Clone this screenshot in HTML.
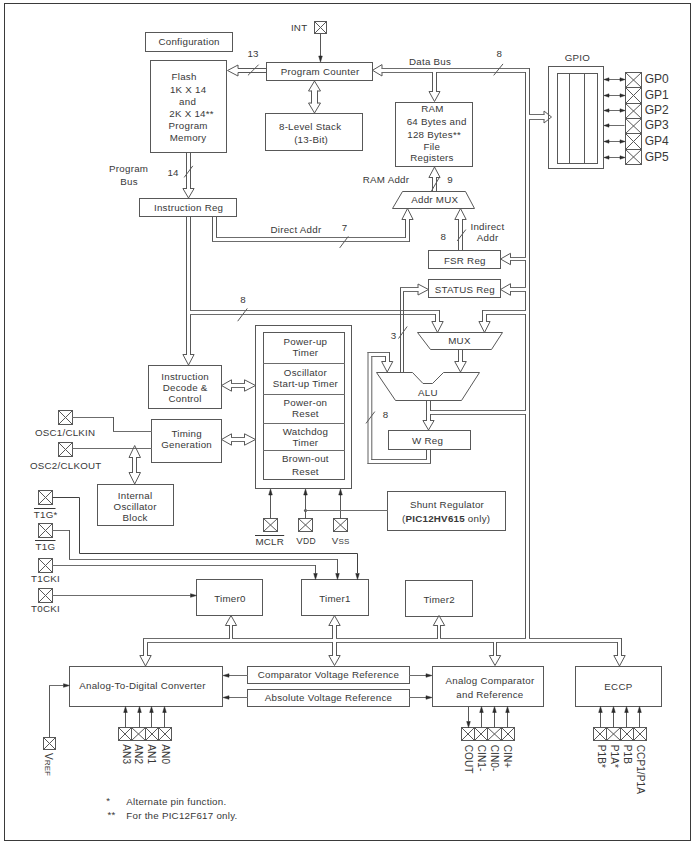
<!DOCTYPE html>
<html><head><meta charset="utf-8"><style>
html,body{margin:0;padding:0;background:#fff;}
svg{display:block;}
text{font-family:"Liberation Sans",sans-serif;fill:#383838;letter-spacing:0.25px;}
</style></head><body>
<svg width="696" height="846" viewBox="0 0 696 846">
<rect x="0" y="0" width="696" height="846" fill="#fff"/>
<rect x="4.5" y="3.5" width="686" height="837" fill="none" stroke="#3a3a3a" stroke-width="1"/>
<rect x="145.5" y="32.5" width="87" height="19" fill="none" stroke="#585858" stroke-width="1"/>
<text x="189.12" y="44.99" font-size="9.75" text-anchor="middle">Configuration</text>
<rect x="150.5" y="60.5" width="76" height="92" fill="none" stroke="#585858" stroke-width="1"/>
<text x="184.12" y="80.19" font-size="9.75" text-anchor="middle">Flash</text>
<text x="188.12" y="93.49" font-size="9.75" text-anchor="middle">1K X 14</text>
<text x="187.62" y="105.19" font-size="9.75" text-anchor="middle">and</text>
<text x="191.62" y="117.49" font-size="9.75" text-anchor="middle">2K X 14**</text>
<text x="188.12" y="129.49" font-size="9.75" text-anchor="middle">Program</text>
<text x="188.12" y="140.79" font-size="9.75" text-anchor="middle">Memory</text>
<rect x="266.5" y="62.5" width="106" height="18" fill="none" stroke="#585858" stroke-width="1"/>
<text x="320.12" y="74.99" font-size="9.75" text-anchor="middle">Program Counter</text>
<rect x="265.5" y="113.5" width="97" height="37" fill="none" stroke="#585858" stroke-width="1"/>
<text x="310.12" y="129.79" font-size="9.75" text-anchor="middle">8-Level Stack</text>
<text x="311.12" y="143.49" font-size="9.75" text-anchor="middle">(13-Bit)</text>
<rect x="395.5" y="102.5" width="77" height="64" fill="none" stroke="#585858" stroke-width="1"/>
<text x="432.43" y="112.29" font-size="9.75" text-anchor="middle">RAM</text>
<text x="436.62" y="125.49" font-size="9.75" text-anchor="middle">64 Bytes and</text>
<text x="434.12" y="138.49" font-size="9.75" text-anchor="middle">128 Bytes**</text>
<text x="431.82" y="150.49" font-size="9.75" text-anchor="middle">File</text>
<text x="432.02" y="160.99" font-size="9.75" text-anchor="middle">Registers</text>
<rect x="139.5" y="198.5" width="97" height="18" fill="none" stroke="#585858" stroke-width="1"/>
<text x="188.62" y="211.49" font-size="9.75" text-anchor="middle">Instruction Reg</text>
<polygon points="402.5,191.5 465.5,191.5 474.5,208.5 392.5,208.5" fill="none" stroke="#585858" stroke-width="1" stroke-linejoin="miter"/>
<text x="434.73" y="203.49" font-size="9.75" text-anchor="middle">Addr MUX</text>
<rect x="428.5" y="250.5" width="72" height="18" fill="none" stroke="#585858" stroke-width="1"/>
<text x="464.82" y="263.99" font-size="9.75" text-anchor="middle">FSR Reg</text>
<rect x="428.5" y="279.5" width="72" height="18" fill="none" stroke="#585858" stroke-width="1"/>
<text x="464.82" y="292.79" font-size="9.75" text-anchor="middle">STATUS Reg</text>
<polygon points="417.5,332.5 502.5,332.5 491.5,349.5 430.5,349.5" fill="none" stroke="#585858" stroke-width="1" stroke-linejoin="miter"/>
<text x="459.43" y="344.19" font-size="9.75" text-anchor="middle">MUX</text>
<polygon points="376.5,372.5 412.5,372.5 423,383.5 432.5,383.5 443.5,372.5 479.5,372.5 461.5,400.5 395.5,400.5" fill="none" stroke="#585858" stroke-width="1" stroke-linejoin="miter"/>
<text x="427.93" y="395.89" font-size="9.75" text-anchor="middle">ALU</text>
<rect x="388.5" y="430.5" width="82" height="19" fill="none" stroke="#585858" stroke-width="1"/>
<text x="427.62" y="443.99" font-size="9.75" text-anchor="middle">W Reg</text>
<rect x="548.5" y="66.5" width="55" height="102" fill="none" stroke="#585858" stroke-width="1"/>
<rect x="557.5" y="73.5" width="40" height="90" fill="none" stroke="#585858" stroke-width="1"/>
<line x1="569.5" y1="73.5" x2="569.5" y2="163.5" stroke="#585858" stroke-width="1" stroke-linecap="square"/>
<line x1="584.5" y1="73.5" x2="584.5" y2="163.5" stroke="#585858" stroke-width="1" stroke-linecap="square"/>
<text x="577.42" y="60.79" font-size="9.75" text-anchor="middle">GPIO</text>
<rect x="148.5" y="365.5" width="73" height="43" fill="none" stroke="#585858" stroke-width="1"/>
<text x="185.12" y="380.49" font-size="9.75" text-anchor="middle">Instruction</text>
<text x="185.12" y="391.49" font-size="9.75" text-anchor="middle">Decode &amp;</text>
<text x="185.12" y="402.29" font-size="9.75" text-anchor="middle">Control</text>
<rect x="151.5" y="419.5" width="70" height="43" fill="none" stroke="#585858" stroke-width="1"/>
<text x="186.62" y="437.49" font-size="9.75" text-anchor="middle">Timing</text>
<text x="186.62" y="447.99" font-size="9.75" text-anchor="middle">Generation</text>
<rect x="97.5" y="484.5" width="76" height="41" fill="none" stroke="#585858" stroke-width="1"/>
<text x="135.12" y="499.29" font-size="9.75" text-anchor="middle">Internal</text>
<text x="135.12" y="510.29" font-size="9.75" text-anchor="middle">Oscillator</text>
<text x="135.12" y="520.99" font-size="9.75" text-anchor="middle">Block</text>
<rect x="255.5" y="325.5" width="96" height="163" fill="none" stroke="#585858" stroke-width="1"/>
<rect x="263.5" y="332.5" width="81" height="147" fill="none" stroke="#585858" stroke-width="1"/>
<line x1="263.5" y1="363.5" x2="344.5" y2="363.5" stroke="#6c6c6c" stroke-width="1" stroke-linecap="square"/>
<line x1="263.5" y1="394.5" x2="344.5" y2="394.5" stroke="#6c6c6c" stroke-width="1" stroke-linecap="square"/>
<line x1="263.5" y1="423.5" x2="344.5" y2="423.5" stroke="#6c6c6c" stroke-width="1" stroke-linecap="square"/>
<line x1="263.5" y1="450.5" x2="344.5" y2="450.5" stroke="#6c6c6c" stroke-width="1" stroke-linecap="square"/>
<text x="305.43" y="345.49" font-size="9.75" text-anchor="middle">Power-up</text>
<text x="305.43" y="355.99" font-size="9.75" text-anchor="middle">Timer</text>
<text x="305.43" y="375.99" font-size="9.75" text-anchor="middle">Oscillator</text>
<text x="305.43" y="387.29" font-size="9.75" text-anchor="middle">Start-up Timer</text>
<text x="305.43" y="405.99" font-size="9.75" text-anchor="middle">Power-on</text>
<text x="305.43" y="417.29" font-size="9.75" text-anchor="middle">Reset</text>
<text x="305.43" y="434.79" font-size="9.75" text-anchor="middle">Watchdog</text>
<text x="305.43" y="445.99" font-size="9.75" text-anchor="middle">Timer</text>
<text x="305.43" y="462.29" font-size="9.75" text-anchor="middle">Brown-out</text>
<text x="305.43" y="475.29" font-size="9.75" text-anchor="middle">Reset</text>
<rect x="387.5" y="491.5" width="118" height="39" fill="none" stroke="#585858" stroke-width="1"/>
<text x="447.02" y="507.99" font-size="9.75" text-anchor="middle">Shunt Regulator</text>
<text x="446.12" y="522.29" font-size="9.75" text-anchor="middle">(<tspan font-weight="bold">PIC12HV615</tspan> only)</text>
<rect x="196.5" y="579.5" width="66" height="36" fill="none" stroke="#585858" stroke-width="1"/>
<text x="229.93" y="602.29" font-size="9.75" text-anchor="middle">Timer0</text>
<rect x="301.5" y="579.5" width="67" height="36" fill="none" stroke="#585858" stroke-width="1"/>
<text x="334.93" y="602.29" font-size="9.75" text-anchor="middle">Timer1</text>
<rect x="405.5" y="580.5" width="67" height="36" fill="none" stroke="#585858" stroke-width="1"/>
<text x="439.23" y="602.99" font-size="9.75" text-anchor="middle">Timer2</text>
<rect x="69.5" y="666.5" width="153" height="40" fill="none" stroke="#585858" stroke-width="1"/>
<text x="142.53" y="689.19" font-size="9.75" text-anchor="middle">Analog-To-Digital Converter</text>
<rect x="247.5" y="666.5" width="162" height="17" fill="none" stroke="#585858" stroke-width="1"/>
<text x="328.43" y="678.19" font-size="9.75" text-anchor="middle">Comparator Voltage Reference</text>
<rect x="247.5" y="689.5" width="162" height="17" fill="none" stroke="#585858" stroke-width="1"/>
<text x="328.52" y="700.89" font-size="9.75" text-anchor="middle">Absolute Voltage Reference</text>
<rect x="432.5" y="666.5" width="111" height="40" fill="none" stroke="#585858" stroke-width="1"/>
<text x="490.02" y="684.49" font-size="9.75" text-anchor="middle">Analog Comparator</text>
<text x="489.93" y="698.39" font-size="9.75" text-anchor="middle">and Reference</text>
<rect x="575.5" y="666.5" width="86" height="40" fill="none" stroke="#585858" stroke-width="1"/>
<text x="618.42" y="689.99" font-size="9.75" text-anchor="middle">ECCP</text>
<rect x="314.5" y="21.5" width="12" height="12" fill="none" stroke="#585858" stroke-width="1"/>
<line x1="314.5" y1="21.5" x2="326.5" y2="33.5" stroke="#585858" stroke-width="1" stroke-linecap="square"/>
<line x1="314.5" y1="33.5" x2="326.5" y2="21.5" stroke="#585858" stroke-width="1" stroke-linecap="square"/>
<text x="299.12" y="31.49" font-size="9.75" text-anchor="middle">INT</text>
<rect x="625.5" y="72.5" width="16" height="15" fill="none" stroke="#585858" stroke-width="1"/>
<line x1="625.5" y1="72.5" x2="641.5" y2="87.5" stroke="#585858" stroke-width="1" stroke-linecap="square"/>
<line x1="625.5" y1="87.5" x2="641.5" y2="72.5" stroke="#585858" stroke-width="1" stroke-linecap="square"/>
<rect x="625.5" y="87.5" width="16" height="16" fill="none" stroke="#585858" stroke-width="1"/>
<line x1="625.5" y1="87.5" x2="641.5" y2="103.5" stroke="#585858" stroke-width="1" stroke-linecap="square"/>
<line x1="625.5" y1="103.5" x2="641.5" y2="87.5" stroke="#585858" stroke-width="1" stroke-linecap="square"/>
<rect x="625.5" y="103.5" width="16" height="15" fill="none" stroke="#585858" stroke-width="1"/>
<line x1="625.5" y1="103.5" x2="641.5" y2="118.5" stroke="#585858" stroke-width="1" stroke-linecap="square"/>
<line x1="625.5" y1="118.5" x2="641.5" y2="103.5" stroke="#585858" stroke-width="1" stroke-linecap="square"/>
<rect x="625.5" y="118.5" width="16" height="15" fill="none" stroke="#585858" stroke-width="1"/>
<line x1="625.5" y1="118.5" x2="641.5" y2="133.5" stroke="#585858" stroke-width="1" stroke-linecap="square"/>
<line x1="625.5" y1="133.5" x2="641.5" y2="118.5" stroke="#585858" stroke-width="1" stroke-linecap="square"/>
<rect x="625.5" y="133.5" width="16" height="16" fill="none" stroke="#585858" stroke-width="1"/>
<line x1="625.5" y1="133.5" x2="641.5" y2="149.5" stroke="#585858" stroke-width="1" stroke-linecap="square"/>
<line x1="625.5" y1="149.5" x2="641.5" y2="133.5" stroke="#585858" stroke-width="1" stroke-linecap="square"/>
<rect x="625.5" y="149.5" width="16" height="15" fill="none" stroke="#585858" stroke-width="1"/>
<line x1="625.5" y1="149.5" x2="641.5" y2="164.5" stroke="#585858" stroke-width="1" stroke-linecap="square"/>
<line x1="625.5" y1="164.5" x2="641.5" y2="149.5" stroke="#585858" stroke-width="1" stroke-linecap="square"/>
<text x="644.8" y="83.1" font-size="12" text-anchor="start" style="letter-spacing:-0.1px">GP0</text>
<line x1="605" y1="79.5" x2="624" y2="79.5" stroke="#6c6c6c" stroke-width="1" stroke-linecap="square"/>
<polygon points="604,79.5 609,77.8 609,81.2" fill="#2a2a2a" stroke="#2a2a2a" stroke-width="0.5" stroke-linejoin="miter"/>
<polygon points="625,79.5 620,77.8 620,81.2" fill="#2a2a2a" stroke="#2a2a2a" stroke-width="0.5" stroke-linejoin="miter"/>
<text x="644.8" y="99.1" font-size="12" text-anchor="start" style="letter-spacing:-0.1px">GP1</text>
<line x1="605" y1="95.5" x2="624" y2="95.5" stroke="#6c6c6c" stroke-width="1" stroke-linecap="square"/>
<polygon points="604,95.5 609,93.8 609,97.2" fill="#2a2a2a" stroke="#2a2a2a" stroke-width="0.5" stroke-linejoin="miter"/>
<polygon points="625,95.5 620,93.8 620,97.2" fill="#2a2a2a" stroke="#2a2a2a" stroke-width="0.5" stroke-linejoin="miter"/>
<text x="644.8" y="114.1" font-size="12" text-anchor="start" style="letter-spacing:-0.1px">GP2</text>
<line x1="605" y1="110.5" x2="624" y2="110.5" stroke="#6c6c6c" stroke-width="1" stroke-linecap="square"/>
<polygon points="604,110.5 609,108.8 609,112.2" fill="#2a2a2a" stroke="#2a2a2a" stroke-width="0.5" stroke-linejoin="miter"/>
<polygon points="625,110.5 620,108.8 620,112.2" fill="#2a2a2a" stroke="#2a2a2a" stroke-width="0.5" stroke-linejoin="miter"/>
<text x="644.8" y="129.1" font-size="12" text-anchor="start" style="letter-spacing:-0.1px">GP3</text>
<line x1="605" y1="125.5" x2="624" y2="125.5" stroke="#6c6c6c" stroke-width="1" stroke-linecap="square"/>
<polygon points="604,125.5 609,123.8 609,127.2" fill="#2a2a2a" stroke="#2a2a2a" stroke-width="0.5" stroke-linejoin="miter"/>
<text x="644.8" y="145.1" font-size="12" text-anchor="start" style="letter-spacing:-0.1px">GP4</text>
<line x1="605" y1="141.5" x2="624" y2="141.5" stroke="#6c6c6c" stroke-width="1" stroke-linecap="square"/>
<polygon points="604,141.5 609,139.8 609,143.2" fill="#2a2a2a" stroke="#2a2a2a" stroke-width="0.5" stroke-linejoin="miter"/>
<polygon points="625,141.5 620,139.8 620,143.2" fill="#2a2a2a" stroke="#2a2a2a" stroke-width="0.5" stroke-linejoin="miter"/>
<text x="644.8" y="161.1" font-size="12" text-anchor="start" style="letter-spacing:-0.1px">GP5</text>
<line x1="605" y1="157.5" x2="624" y2="157.5" stroke="#6c6c6c" stroke-width="1" stroke-linecap="square"/>
<polygon points="604,157.5 609,155.8 609,159.2" fill="#2a2a2a" stroke="#2a2a2a" stroke-width="0.5" stroke-linejoin="miter"/>
<polygon points="625,157.5 620,155.8 620,159.2" fill="#2a2a2a" stroke="#2a2a2a" stroke-width="0.5" stroke-linejoin="miter"/>
<rect x="58.5" y="410.5" width="14" height="14" fill="none" stroke="#585858" stroke-width="1"/>
<line x1="58.5" y1="410.5" x2="72.5" y2="424.5" stroke="#585858" stroke-width="1" stroke-linecap="square"/>
<line x1="58.5" y1="424.5" x2="72.5" y2="410.5" stroke="#585858" stroke-width="1" stroke-linecap="square"/>
<rect x="58.5" y="442.5" width="14" height="14" fill="none" stroke="#585858" stroke-width="1"/>
<line x1="58.5" y1="442.5" x2="72.5" y2="456.5" stroke="#585858" stroke-width="1" stroke-linecap="square"/>
<line x1="58.5" y1="456.5" x2="72.5" y2="442.5" stroke="#585858" stroke-width="1" stroke-linecap="square"/>
<text x="65.12" y="435.79" font-size="9.75" text-anchor="middle">OSC1/CLKIN</text>
<text x="65.72" y="468.99" font-size="9.75" text-anchor="middle">OSC2/CLKOUT</text>
<rect x="38.5" y="490.5" width="14" height="14" fill="none" stroke="#585858" stroke-width="1"/>
<line x1="38.5" y1="490.5" x2="52.5" y2="504.5" stroke="#585858" stroke-width="1" stroke-linecap="square"/>
<line x1="38.5" y1="504.5" x2="52.5" y2="490.5" stroke="#585858" stroke-width="1" stroke-linecap="square"/>
<rect x="38.5" y="523.5" width="14" height="14" fill="none" stroke="#585858" stroke-width="1"/>
<line x1="38.5" y1="523.5" x2="52.5" y2="537.5" stroke="#585858" stroke-width="1" stroke-linecap="square"/>
<line x1="38.5" y1="537.5" x2="52.5" y2="523.5" stroke="#585858" stroke-width="1" stroke-linecap="square"/>
<rect x="38.5" y="558.5" width="14" height="14" fill="none" stroke="#585858" stroke-width="1"/>
<line x1="38.5" y1="558.5" x2="52.5" y2="572.5" stroke="#585858" stroke-width="1" stroke-linecap="square"/>
<line x1="38.5" y1="572.5" x2="52.5" y2="558.5" stroke="#585858" stroke-width="1" stroke-linecap="square"/>
<rect x="38.5" y="588.5" width="14" height="14" fill="none" stroke="#585858" stroke-width="1"/>
<line x1="38.5" y1="588.5" x2="52.5" y2="602.5" stroke="#585858" stroke-width="1" stroke-linecap="square"/>
<line x1="38.5" y1="602.5" x2="52.5" y2="588.5" stroke="#585858" stroke-width="1" stroke-linecap="square"/>
<text x="45.73" y="517.99" font-size="9.75" text-anchor="middle">T1G*</text>
<line x1="34.5" y1="508.5" x2="55" y2="508.5" stroke="#383838" stroke-width="1" stroke-linecap="square"/>
<text x="45.42" y="550.49" font-size="9.75" text-anchor="middle">T1G</text>
<line x1="35.5" y1="540.5" x2="55" y2="540.5" stroke="#383838" stroke-width="1" stroke-linecap="square"/>
<text x="45.52" y="582.29" font-size="9.75" text-anchor="middle">T1CKI</text>
<text x="45.52" y="612.29" font-size="9.75" text-anchor="middle">T0CKI</text>
<rect x="263.5" y="518.5" width="14" height="13" fill="none" stroke="#585858" stroke-width="1"/>
<line x1="263.5" y1="518.5" x2="277.5" y2="531.5" stroke="#585858" stroke-width="1" stroke-linecap="square"/>
<line x1="263.5" y1="531.5" x2="277.5" y2="518.5" stroke="#585858" stroke-width="1" stroke-linecap="square"/>
<rect x="298.5" y="518.5" width="14" height="13" fill="none" stroke="#585858" stroke-width="1"/>
<line x1="298.5" y1="518.5" x2="312.5" y2="531.5" stroke="#585858" stroke-width="1" stroke-linecap="square"/>
<line x1="298.5" y1="531.5" x2="312.5" y2="518.5" stroke="#585858" stroke-width="1" stroke-linecap="square"/>
<rect x="333.5" y="518.5" width="14" height="13" fill="none" stroke="#585858" stroke-width="1"/>
<line x1="333.5" y1="518.5" x2="347.5" y2="531.5" stroke="#585858" stroke-width="1" stroke-linecap="square"/>
<line x1="333.5" y1="531.5" x2="347.5" y2="518.5" stroke="#585858" stroke-width="1" stroke-linecap="square"/>
<text x="269.73" y="544.79" font-size="9.75" text-anchor="middle">MCLR</text>
<line x1="255.5" y1="535.5" x2="283.7" y2="535.5" stroke="#383838" stroke-width="1" stroke-linecap="square"/>
<text x="306.12" y="544" font-size="9.75" text-anchor="middle">V<tspan font-size="8.5">DD</tspan></text>
<text x="340.73" y="544" font-size="9.75" text-anchor="middle">V<tspan font-size="8">SS</tspan></text>
<rect x="43.5" y="737.5" width="12" height="12" fill="none" stroke="#585858" stroke-width="1"/>
<line x1="43.5" y1="737.5" x2="55.5" y2="749.5" stroke="#585858" stroke-width="1" stroke-linecap="square"/>
<line x1="43.5" y1="749.5" x2="55.5" y2="737.5" stroke="#585858" stroke-width="1" stroke-linecap="square"/>
<rect x="118.5" y="727.5" width="13" height="13" fill="none" stroke="#585858" stroke-width="1"/>
<line x1="118.5" y1="727.5" x2="131.5" y2="740.5" stroke="#585858" stroke-width="1" stroke-linecap="square"/>
<line x1="118.5" y1="740.5" x2="131.5" y2="727.5" stroke="#585858" stroke-width="1" stroke-linecap="square"/>
<rect x="131.5" y="727.5" width="14" height="13" fill="none" stroke="#585858" stroke-width="1"/>
<line x1="131.5" y1="727.5" x2="145.5" y2="740.5" stroke="#585858" stroke-width="1" stroke-linecap="square"/>
<line x1="131.5" y1="740.5" x2="145.5" y2="727.5" stroke="#585858" stroke-width="1" stroke-linecap="square"/>
<rect x="145.5" y="727.5" width="13" height="13" fill="none" stroke="#585858" stroke-width="1"/>
<line x1="145.5" y1="727.5" x2="158.5" y2="740.5" stroke="#585858" stroke-width="1" stroke-linecap="square"/>
<line x1="145.5" y1="740.5" x2="158.5" y2="727.5" stroke="#585858" stroke-width="1" stroke-linecap="square"/>
<rect x="158.5" y="727.5" width="13" height="13" fill="none" stroke="#585858" stroke-width="1"/>
<line x1="158.5" y1="727.5" x2="171.5" y2="740.5" stroke="#585858" stroke-width="1" stroke-linecap="square"/>
<line x1="158.5" y1="740.5" x2="171.5" y2="727.5" stroke="#585858" stroke-width="1" stroke-linecap="square"/>
<rect x="461.5" y="727.5" width="13" height="13" fill="none" stroke="#585858" stroke-width="1"/>
<line x1="461.5" y1="727.5" x2="474.5" y2="740.5" stroke="#585858" stroke-width="1" stroke-linecap="square"/>
<line x1="461.5" y1="740.5" x2="474.5" y2="727.5" stroke="#585858" stroke-width="1" stroke-linecap="square"/>
<rect x="474.5" y="727.5" width="13" height="13" fill="none" stroke="#585858" stroke-width="1"/>
<line x1="474.5" y1="727.5" x2="487.5" y2="740.5" stroke="#585858" stroke-width="1" stroke-linecap="square"/>
<line x1="474.5" y1="740.5" x2="487.5" y2="727.5" stroke="#585858" stroke-width="1" stroke-linecap="square"/>
<rect x="487.5" y="727.5" width="14" height="13" fill="none" stroke="#585858" stroke-width="1"/>
<line x1="487.5" y1="727.5" x2="501.5" y2="740.5" stroke="#585858" stroke-width="1" stroke-linecap="square"/>
<line x1="487.5" y1="740.5" x2="501.5" y2="727.5" stroke="#585858" stroke-width="1" stroke-linecap="square"/>
<rect x="501.5" y="727.5" width="13" height="13" fill="none" stroke="#585858" stroke-width="1"/>
<line x1="501.5" y1="727.5" x2="514.5" y2="740.5" stroke="#585858" stroke-width="1" stroke-linecap="square"/>
<line x1="501.5" y1="740.5" x2="514.5" y2="727.5" stroke="#585858" stroke-width="1" stroke-linecap="square"/>
<rect x="593.5" y="727.5" width="13" height="13" fill="none" stroke="#585858" stroke-width="1"/>
<line x1="593.5" y1="727.5" x2="606.5" y2="740.5" stroke="#585858" stroke-width="1" stroke-linecap="square"/>
<line x1="593.5" y1="740.5" x2="606.5" y2="727.5" stroke="#585858" stroke-width="1" stroke-linecap="square"/>
<rect x="606.5" y="727.5" width="14" height="13" fill="none" stroke="#585858" stroke-width="1"/>
<line x1="606.5" y1="727.5" x2="620.5" y2="740.5" stroke="#585858" stroke-width="1" stroke-linecap="square"/>
<line x1="606.5" y1="740.5" x2="620.5" y2="727.5" stroke="#585858" stroke-width="1" stroke-linecap="square"/>
<rect x="620.5" y="727.5" width="13" height="13" fill="none" stroke="#585858" stroke-width="1"/>
<line x1="620.5" y1="727.5" x2="633.5" y2="740.5" stroke="#585858" stroke-width="1" stroke-linecap="square"/>
<line x1="620.5" y1="740.5" x2="633.5" y2="727.5" stroke="#585858" stroke-width="1" stroke-linecap="square"/>
<rect x="633.5" y="727.5" width="13" height="13" fill="none" stroke="#585858" stroke-width="1"/>
<line x1="633.5" y1="727.5" x2="646.5" y2="740.5" stroke="#585858" stroke-width="1" stroke-linecap="square"/>
<line x1="633.5" y1="740.5" x2="646.5" y2="727.5" stroke="#585858" stroke-width="1" stroke-linecap="square"/>
<text x="0" y="0" font-size="10" style="letter-spacing:0.1px" transform="translate(45,753) rotate(90)" text-anchor="start">V<tspan font-size="8">REF</tspan></text>
<text x="0" y="0" font-size="10" style="letter-spacing:0.1px" transform="translate(122.8,744.3) rotate(90)" text-anchor="start">AN3</text>
<text x="0" y="0" font-size="10" style="letter-spacing:0.1px" transform="translate(135.4,744.3) rotate(90)" text-anchor="start">AN2</text>
<text x="0" y="0" font-size="10" style="letter-spacing:0.1px" transform="translate(148.4,744.3) rotate(90)" text-anchor="start">AN1</text>
<text x="0" y="0" font-size="10" style="letter-spacing:0.1px" transform="translate(162,744.3) rotate(90)" text-anchor="start">AN0</text>
<text x="0" y="0" font-size="10" style="letter-spacing:0.1px" transform="translate(464.8,744.8) rotate(90)" text-anchor="start">COUT</text>
<text x="0" y="0" font-size="10" style="letter-spacing:0.1px" transform="translate(477.6,744.8) rotate(90)" text-anchor="start">CIN1-</text>
<text x="0" y="0" font-size="10" style="letter-spacing:0.1px" transform="translate(490.9,744.8) rotate(90)" text-anchor="start">CIN0-</text>
<text x="0" y="0" font-size="10" style="letter-spacing:0.1px" transform="translate(504,744.8) rotate(90)" text-anchor="start">CIN+</text>
<text x="0" y="0" font-size="10" style="letter-spacing:0.1px" transform="translate(597.7,744.8) rotate(90)" text-anchor="start">P1B*</text>
<text x="0" y="0" font-size="10" style="letter-spacing:0.1px" transform="translate(610.5,744.8) rotate(90)" text-anchor="start">P1A*</text>
<text x="0" y="0" font-size="10" style="letter-spacing:0.1px" transform="translate(623.5,744.8) rotate(90)" text-anchor="start">P1B</text>
<text x="0" y="0" font-size="10" style="letter-spacing:0.1px" transform="translate(636.7,744.8) rotate(90)" text-anchor="start">CCP1/P1A</text>
<text x="106.3" y="804" font-size="9.75" text-anchor="start">*</text>
<text x="107.5" y="818" font-size="9.75" text-anchor="start">**</text>
<text x="126.3" y="804.7" font-size="9.75" text-anchor="start">Alternate pin function.</text>
<text x="126.3" y="818.6" font-size="9.75" text-anchor="start">For the PIC12F617 only.</text>
<line x1="320.5" y1="33.5" x2="320.5" y2="56" stroke="#585858" stroke-width="1" stroke-linecap="square"/>
<polygon points="320.5,62 318.7,56 322.3,56" fill="#2a2a2a" stroke="#2a2a2a" stroke-width="0.5" stroke-linejoin="miter"/>
<polyline points="266.5,68.5 238,68.5 238,65 227.5,70.5 238,76 238,72.5 266.5,72.5" fill="none" stroke="#585858" stroke-width="1" stroke-linejoin="miter"/>
<text x="253.12" y="57.49" font-size="9.75" text-anchor="middle">13</text>
<line x1="248.3" y1="75" x2="258.3" y2="65" stroke="#585858" stroke-width="1" stroke-linecap="square"/>
<polyline points="311.5,91 308.5,91 314.5,81 320.5,91 317.5,91" fill="none" stroke="#585858" stroke-width="1" stroke-linejoin="miter"/>
<polyline points="311.5,103 308.5,103 314.5,113 320.5,103 317.5,103" fill="none" stroke="#585858" stroke-width="1" stroke-linejoin="miter"/>
<line x1="311.5" y1="91" x2="311.5" y2="103" stroke="#585858" stroke-width="1" stroke-linecap="square"/>
<line x1="317.5" y1="91" x2="317.5" y2="103" stroke="#585858" stroke-width="1" stroke-linecap="square"/>
<polyline points="382,68.5 382,64.6 372.5,70.3 382,76 382,72.5" fill="none" stroke="#585858" stroke-width="1" stroke-linejoin="miter"/>
<line x1="382" y1="68.5" x2="529.5" y2="68.5" stroke="#6c6c6c" stroke-width="1" stroke-linecap="square"/>
<line x1="382" y1="72.5" x2="432.5" y2="72.5" stroke="#6c6c6c" stroke-width="1" stroke-linecap="square"/>
<line x1="436.5" y1="72.5" x2="525.5" y2="72.5" stroke="#6c6c6c" stroke-width="1" stroke-linecap="square"/>
<line x1="432.5" y1="72.5" x2="432.5" y2="91.5" stroke="#585858" stroke-width="1" stroke-linecap="square"/>
<line x1="436.5" y1="72.5" x2="436.5" y2="91.5" stroke="#585858" stroke-width="1" stroke-linecap="square"/>
<polyline points="432.5,91.5 429,91.5 434.5,101.5 440,91.5 436.5,91.5" fill="none" stroke="#585858" stroke-width="1" stroke-linejoin="miter"/>
<text x="430.12" y="65.19" font-size="9.75" text-anchor="middle">Data Bus</text>
<text x="499.43" y="57.49" font-size="9.75" text-anchor="middle">8</text>
<line x1="494" y1="75" x2="502.7" y2="64.3" stroke="#585858" stroke-width="1" stroke-linecap="square"/>
<line x1="529.5" y1="68.5" x2="529.5" y2="114.5" stroke="#585858" stroke-width="1" stroke-linecap="square"/>
<line x1="529.5" y1="119.5" x2="529.5" y2="638.5" stroke="#585858" stroke-width="1" stroke-linecap="square"/>
<line x1="529.5" y1="114.5" x2="544" y2="114.5" stroke="#6c6c6c" stroke-width="1" stroke-linecap="square"/>
<line x1="529.5" y1="119.5" x2="544" y2="119.5" stroke="#6c6c6c" stroke-width="1" stroke-linecap="square"/>
<polyline points="544,114.5 544,111 551.5,117 544,123 544,119.5" fill="none" stroke="#585858" stroke-width="1" stroke-linejoin="miter"/>
<line x1="529.5" y1="638.5" x2="621.5" y2="638.5" stroke="#6c6c6c" stroke-width="1" stroke-linecap="square"/>
<line x1="525.5" y1="72.5" x2="525.5" y2="257.5" stroke="#585858" stroke-width="1" stroke-linecap="square"/>
<line x1="525.5" y1="257.5" x2="510.5" y2="257.5" stroke="#6c6c6c" stroke-width="1" stroke-linecap="square"/>
<line x1="525.5" y1="260.5" x2="510.5" y2="260.5" stroke="#6c6c6c" stroke-width="1" stroke-linecap="square"/>
<polyline points="510.5,257.5 510.5,253.3 500.5,259 510.5,264.7 510.5,260.5" fill="none" stroke="#585858" stroke-width="1" stroke-linejoin="miter"/>
<line x1="525.5" y1="260.5" x2="525.5" y2="287.5" stroke="#585858" stroke-width="1" stroke-linecap="square"/>
<line x1="525.5" y1="287.5" x2="510.5" y2="287.5" stroke="#6c6c6c" stroke-width="1" stroke-linecap="square"/>
<line x1="525.5" y1="291.5" x2="510.5" y2="291.5" stroke="#6c6c6c" stroke-width="1" stroke-linecap="square"/>
<polyline points="510.5,287.5 510.5,283.7 500.5,289.5 510.5,295.3 510.5,291.5" fill="none" stroke="#585858" stroke-width="1" stroke-linejoin="miter"/>
<line x1="525.5" y1="291.5" x2="525.5" y2="310.5" stroke="#585858" stroke-width="1" stroke-linecap="square"/>
<line x1="525.5" y1="310.5" x2="482.5" y2="310.5" stroke="#6c6c6c" stroke-width="1" stroke-linecap="square"/>
<line x1="482.5" y1="310.5" x2="482.5" y2="321.5" stroke="#585858" stroke-width="1" stroke-linecap="square"/>
<line x1="525.5" y1="314.5" x2="486.5" y2="314.5" stroke="#6c6c6c" stroke-width="1" stroke-linecap="square"/>
<line x1="486.5" y1="314.5" x2="486.5" y2="321.5" stroke="#585858" stroke-width="1" stroke-linecap="square"/>
<polyline points="482.5,321.5 478.9,321.5 484.5,332.5 490.1,321.5 486.5,321.5" fill="none" stroke="#585858" stroke-width="1" stroke-linejoin="miter"/>
<line x1="525.5" y1="314.5" x2="525.5" y2="410.5" stroke="#585858" stroke-width="1" stroke-linecap="square"/>
<line x1="525.5" y1="410.5" x2="430.5" y2="410.5" stroke="#6c6c6c" stroke-width="1" stroke-linecap="square"/>
<line x1="525.5" y1="414.5" x2="430.5" y2="414.5" stroke="#6c6c6c" stroke-width="1" stroke-linecap="square"/>
<line x1="525.5" y1="414.5" x2="525.5" y2="638.5" stroke="#585858" stroke-width="1" stroke-linecap="square"/>
<line x1="186.5" y1="152.5" x2="186.5" y2="188.5" stroke="#585858" stroke-width="1" stroke-linecap="square"/>
<line x1="190.5" y1="152.5" x2="190.5" y2="188.5" stroke="#585858" stroke-width="1" stroke-linecap="square"/>
<polyline points="186.5,188.5 182.9,188.5 188.5,198 194.1,188.5 190.5,188.5" fill="none" stroke="#585858" stroke-width="1" stroke-linejoin="miter"/>
<text x="173.12" y="175.99" font-size="9.75" text-anchor="middle">14</text>
<line x1="184.5" y1="177" x2="192.5" y2="166.3" stroke="#585858" stroke-width="1" stroke-linecap="square"/>
<text x="128.62" y="171.69" font-size="9.75" text-anchor="middle">Program</text>
<text x="129.12" y="184.69" font-size="9.75" text-anchor="middle">Bus</text>
<line x1="186.5" y1="216.5" x2="186.5" y2="354.5" stroke="#585858" stroke-width="1" stroke-linecap="square"/>
<line x1="190.5" y1="216.5" x2="190.5" y2="310.5" stroke="#585858" stroke-width="1" stroke-linecap="square"/>
<line x1="190.5" y1="314.5" x2="190.5" y2="354.5" stroke="#585858" stroke-width="1" stroke-linecap="square"/>
<polyline points="186.5,354.5 182.9,354.5 188.5,365 194.1,354.5 190.5,354.5" fill="none" stroke="#585858" stroke-width="1" stroke-linejoin="miter"/>
<line x1="190.5" y1="310.5" x2="439.5" y2="310.5" stroke="#6c6c6c" stroke-width="1" stroke-linecap="square"/>
<line x1="439.5" y1="310.5" x2="439.5" y2="321.5" stroke="#585858" stroke-width="1" stroke-linecap="square"/>
<line x1="190.5" y1="314.5" x2="435.5" y2="314.5" stroke="#6c6c6c" stroke-width="1" stroke-linecap="square"/>
<line x1="435.5" y1="314.5" x2="435.5" y2="321.5" stroke="#585858" stroke-width="1" stroke-linecap="square"/>
<polyline points="435.5,321.5 431.8,321.5 437.5,332.5 443.2,321.5 439.5,321.5" fill="none" stroke="#585858" stroke-width="1" stroke-linejoin="miter"/>
<text x="243.12" y="302.99" font-size="9.75" text-anchor="middle">8</text>
<line x1="238" y1="320.8" x2="247" y2="308.8" stroke="#585858" stroke-width="1" stroke-linecap="square"/>
<line x1="212.5" y1="216.5" x2="212.5" y2="241.5" stroke="#585858" stroke-width="1" stroke-linecap="square"/>
<line x1="212.5" y1="241.5" x2="409.5" y2="241.5" stroke="#6c6c6c" stroke-width="1" stroke-linecap="square"/>
<line x1="409.5" y1="241.5" x2="409.5" y2="219.5" stroke="#585858" stroke-width="1" stroke-linecap="square"/>
<line x1="216.5" y1="216.5" x2="216.5" y2="237.5" stroke="#585858" stroke-width="1" stroke-linecap="square"/>
<line x1="216.5" y1="237.5" x2="405.5" y2="237.5" stroke="#6c6c6c" stroke-width="1" stroke-linecap="square"/>
<line x1="405.5" y1="237.5" x2="405.5" y2="219.5" stroke="#585858" stroke-width="1" stroke-linecap="square"/>
<polyline points="405.5,219.5 401.9,219.5 407.5,208.5 413.1,219.5 409.5,219.5" fill="none" stroke="#585858" stroke-width="1" stroke-linejoin="miter"/>
<text x="295.93" y="232.99" font-size="9.75" text-anchor="middle">Direct Addr</text>
<text x="344.62" y="230.99" font-size="9.75" text-anchor="middle">7</text>
<line x1="340" y1="247.5" x2="348" y2="236.8" stroke="#585858" stroke-width="1" stroke-linecap="square"/>
<line x1="432.5" y1="191.5" x2="432.5" y2="177.5" stroke="#585858" stroke-width="1" stroke-linecap="square"/>
<line x1="436.5" y1="191.5" x2="436.5" y2="177.5" stroke="#585858" stroke-width="1" stroke-linecap="square"/>
<polyline points="432.5,177.5 428.9,177.5 434.5,167 440.1,177.5 436.5,177.5" fill="none" stroke="#585858" stroke-width="1" stroke-linejoin="miter"/>
<text x="386.02" y="182.79" font-size="9.75" text-anchor="middle">RAM Addr</text>
<text x="450.12" y="183.49" font-size="9.75" text-anchor="middle">9</text>
<line x1="431.3" y1="191.3" x2="439.3" y2="177.5" stroke="#585858" stroke-width="1" stroke-linecap="square"/>
<line x1="458.5" y1="250.5" x2="458.5" y2="219.5" stroke="#585858" stroke-width="1" stroke-linecap="square"/>
<line x1="462.5" y1="250.5" x2="462.5" y2="219.5" stroke="#585858" stroke-width="1" stroke-linecap="square"/>
<polyline points="458.5,219.5 454.8,219.5 460.5,208.5 466.2,219.5 462.5,219.5" fill="none" stroke="#585858" stroke-width="1" stroke-linejoin="miter"/>
<text x="443.43" y="240.29" font-size="9.75" text-anchor="middle">8</text>
<line x1="457.5" y1="240.5" x2="465.5" y2="230" stroke="#585858" stroke-width="1" stroke-linecap="square"/>
<text x="487.43" y="229.99" font-size="9.75" text-anchor="middle">Indirect</text>
<text x="487.62" y="240.79" font-size="9.75" text-anchor="middle">Addr</text>
<line x1="400.5" y1="372.5" x2="400.5" y2="287.5" stroke="#585858" stroke-width="1" stroke-linecap="square"/>
<line x1="400.5" y1="287.5" x2="418" y2="287.5" stroke="#6c6c6c" stroke-width="1" stroke-linecap="square"/>
<line x1="403.5" y1="372.5" x2="403.5" y2="291.5" stroke="#585858" stroke-width="1" stroke-linecap="square"/>
<line x1="403.5" y1="291.5" x2="418" y2="291.5" stroke="#6c6c6c" stroke-width="1" stroke-linecap="square"/>
<polyline points="418,287.5 418,284 428.5,289.5 418,295 418,291.5" fill="none" stroke="#585858" stroke-width="1" stroke-linejoin="miter"/>
<text x="393.62" y="339.19" font-size="9.75" text-anchor="middle">3</text>
<line x1="398.8" y1="338.1" x2="406.9" y2="326.9" stroke="#585858" stroke-width="1" stroke-linecap="square"/>
<line x1="458.5" y1="349.5" x2="458.5" y2="361.5" stroke="#585858" stroke-width="1" stroke-linecap="square"/>
<line x1="462.5" y1="349.5" x2="462.5" y2="361.5" stroke="#585858" stroke-width="1" stroke-linecap="square"/>
<polyline points="458.5,361.5 454.7,361.5 460.5,372 466.3,361.5 462.5,361.5" fill="none" stroke="#585858" stroke-width="1" stroke-linejoin="miter"/>
<line x1="430.5" y1="449.5" x2="430.5" y2="463.5" stroke="#585858" stroke-width="1" stroke-linecap="square"/>
<line x1="430.5" y1="463.5" x2="368" y2="463.5" stroke="#6c6c6c" stroke-width="1" stroke-linecap="square"/>
<line x1="368" y1="463.5" x2="368" y2="352.5" stroke="#606060" stroke-width="1" stroke-linecap="square"/>
<line x1="368" y1="352.5" x2="389.5" y2="352.5" stroke="#6c6c6c" stroke-width="1" stroke-linecap="square"/>
<line x1="389.5" y1="352.5" x2="389.5" y2="361.5" stroke="#585858" stroke-width="1" stroke-linecap="square"/>
<line x1="426.5" y1="449.5" x2="426.5" y2="459.5" stroke="#585858" stroke-width="1" stroke-linecap="square"/>
<line x1="426.5" y1="459.5" x2="371.8" y2="459.5" stroke="#6c6c6c" stroke-width="1" stroke-linecap="square"/>
<line x1="371.8" y1="459.5" x2="371.8" y2="356.5" stroke="#606060" stroke-width="1" stroke-linecap="square"/>
<line x1="371.8" y1="356.5" x2="385.5" y2="356.5" stroke="#6c6c6c" stroke-width="1" stroke-linecap="square"/>
<line x1="385.5" y1="356.5" x2="385.5" y2="361.5" stroke="#585858" stroke-width="1" stroke-linecap="square"/>
<polyline points="385.5,361.5 381.6,361.5 387.2,372 392.8,361.5 389.5,361.5" fill="none" stroke="#585858" stroke-width="1" stroke-linejoin="miter"/>
<text x="385.62" y="417.99" font-size="9.75" text-anchor="middle">8</text>
<line x1="366.3" y1="423" x2="374.5" y2="412" stroke="#585858" stroke-width="1" stroke-linecap="square"/>
<line x1="426.5" y1="400.5" x2="426.5" y2="420.5" stroke="#585858" stroke-width="1" stroke-linecap="square"/>
<line x1="430.5" y1="400.5" x2="430.5" y2="410.5" stroke="#585858" stroke-width="1" stroke-linecap="square"/>
<line x1="430.5" y1="414.5" x2="430.5" y2="420.5" stroke="#585858" stroke-width="1" stroke-linecap="square"/>
<polyline points="426.5,420.5 422.9,420.5 428.5,430 434.1,420.5 430.5,420.5" fill="none" stroke="#585858" stroke-width="1" stroke-linejoin="miter"/>
<polyline points="231.5,383.5 231.5,379.8 221.5,385.5 231.5,391.2 231.5,387.5" fill="none" stroke="#585858" stroke-width="1" stroke-linejoin="miter"/>
<polyline points="244.5,383.5 244.5,379.8 255.5,385.5 244.5,391.2 244.5,387.5" fill="none" stroke="#585858" stroke-width="1" stroke-linejoin="miter"/>
<line x1="231.5" y1="383.5" x2="244.5" y2="383.5" stroke="#6c6c6c" stroke-width="1" stroke-linecap="square"/>
<line x1="231.5" y1="387.5" x2="244.5" y2="387.5" stroke="#6c6c6c" stroke-width="1" stroke-linecap="square"/>
<polyline points="231.5,437.5 231.5,433.8 221.5,439.5 231.5,445.2 231.5,441.5" fill="none" stroke="#585858" stroke-width="1" stroke-linejoin="miter"/>
<polyline points="244.5,437.5 244.5,433.8 255.5,439.5 244.5,445.2 244.5,441.5" fill="none" stroke="#585858" stroke-width="1" stroke-linejoin="miter"/>
<line x1="231.5" y1="437.5" x2="244.5" y2="437.5" stroke="#6c6c6c" stroke-width="1" stroke-linecap="square"/>
<line x1="231.5" y1="441.5" x2="244.5" y2="441.5" stroke="#6c6c6c" stroke-width="1" stroke-linecap="square"/>
<line x1="72.5" y1="417.5" x2="113.5" y2="417.5" stroke="#6c6c6c" stroke-width="1" stroke-linecap="square"/>
<line x1="113.5" y1="417.5" x2="113.5" y2="431.5" stroke="#585858" stroke-width="1" stroke-linecap="square"/>
<line x1="113.5" y1="431.5" x2="151.5" y2="431.5" stroke="#6c6c6c" stroke-width="1" stroke-linecap="square"/>
<line x1="72.5" y1="448.5" x2="151.5" y2="448.5" stroke="#6c6c6c" stroke-width="1" stroke-linecap="square"/>
<polyline points="132.5,457.5 129,457.5 134.7,445.5 140.5,457.5 136.5,457.5" fill="none" stroke="#585858" stroke-width="1" stroke-linejoin="miter"/>
<polyline points="132.5,472.5 129,472.5 134.7,484 140.5,472.5 136.5,472.5" fill="none" stroke="#585858" stroke-width="1" stroke-linejoin="miter"/>
<line x1="132.5" y1="457.5" x2="132.5" y2="472.5" stroke="#585858" stroke-width="1" stroke-linecap="square"/>
<line x1="136.5" y1="457.5" x2="136.5" y2="472.5" stroke="#585858" stroke-width="1" stroke-linecap="square"/>
<polyline points="52.5,497.5 79.5,497.5 79.5,553.5 357.5,553.5 357.5,573" fill="none" stroke="#404040" stroke-width="1" stroke-linejoin="miter"/>
<polygon points="357.5,579.5 355.7,573.5 359.3,573.5" fill="#2a2a2a" stroke="#2a2a2a" stroke-width="0.5" stroke-linejoin="miter"/>
<line x1="52.5" y1="530.5" x2="69.5" y2="530.5" stroke="#6c6c6c" stroke-width="1" stroke-linecap="square"/>
<line x1="69.5" y1="530.5" x2="69.5" y2="559.5" stroke="#585858" stroke-width="1" stroke-linecap="square"/>
<line x1="69.5" y1="559.5" x2="337.5" y2="559.5" stroke="#6c6c6c" stroke-width="1" stroke-linecap="square"/>
<line x1="337.5" y1="559.5" x2="337.5" y2="573" stroke="#585858" stroke-width="1" stroke-linecap="square"/>
<polygon points="337.5,579.5 335.7,573.5 339.3,573.5" fill="#2a2a2a" stroke="#2a2a2a" stroke-width="0.5" stroke-linejoin="miter"/>
<line x1="52.5" y1="565.5" x2="315.5" y2="565.5" stroke="#6c6c6c" stroke-width="1" stroke-linecap="square"/>
<line x1="315.5" y1="565.5" x2="315.5" y2="573" stroke="#585858" stroke-width="1" stroke-linecap="square"/>
<polygon points="315.5,579.5 313.7,573.5 317.3,573.5" fill="#2a2a2a" stroke="#2a2a2a" stroke-width="0.5" stroke-linejoin="miter"/>
<line x1="52.5" y1="595.5" x2="190" y2="595.5" stroke="#6c6c6c" stroke-width="1" stroke-linecap="square"/>
<polygon points="196.5,595.5 190.5,593.7 190.5,597.3" fill="#2a2a2a" stroke="#2a2a2a" stroke-width="0.5" stroke-linejoin="miter"/>
<line x1="270.5" y1="518.5" x2="270.5" y2="495" stroke="#585858" stroke-width="1" stroke-linecap="square"/>
<polygon points="270.5,489 268.7,495 272.3,495" fill="#2a2a2a" stroke="#2a2a2a" stroke-width="0.5" stroke-linejoin="miter"/>
<line x1="305.5" y1="518.5" x2="305.5" y2="495" stroke="#585858" stroke-width="1" stroke-linecap="square"/>
<polygon points="305.5,489 303.7,495 307.3,495" fill="#2a2a2a" stroke="#2a2a2a" stroke-width="0.5" stroke-linejoin="miter"/>
<line x1="340.5" y1="518.5" x2="340.5" y2="495" stroke="#585858" stroke-width="1" stroke-linecap="square"/>
<polygon points="340.5,489 338.7,495 342.3,495" fill="#2a2a2a" stroke="#2a2a2a" stroke-width="0.5" stroke-linejoin="miter"/>
<circle cx="305.5" cy="510.5" r="1.6" fill="#585858"/>
<line x1="305.5" y1="510.5" x2="387.5" y2="510.5" stroke="#6c6c6c" stroke-width="1" stroke-linecap="square"/>
<line x1="143.5" y1="655.5" x2="143.5" y2="638.5" stroke="#585858" stroke-width="1" stroke-linecap="square"/>
<line x1="143.5" y1="638.5" x2="229.5" y2="638.5" stroke="#6c6c6c" stroke-width="1" stroke-linecap="square"/>
<line x1="229.5" y1="638.5" x2="229.5" y2="625.5" stroke="#585858" stroke-width="1" stroke-linecap="square"/>
<line x1="232.5" y1="625.5" x2="232.5" y2="638.5" stroke="#585858" stroke-width="1" stroke-linecap="square"/>
<line x1="232.5" y1="638.5" x2="332.5" y2="638.5" stroke="#6c6c6c" stroke-width="1" stroke-linecap="square"/>
<line x1="332.5" y1="638.5" x2="332.5" y2="625.5" stroke="#585858" stroke-width="1" stroke-linecap="square"/>
<line x1="336.5" y1="625.5" x2="336.5" y2="638.5" stroke="#585858" stroke-width="1" stroke-linecap="square"/>
<line x1="336.5" y1="638.5" x2="437.5" y2="638.5" stroke="#6c6c6c" stroke-width="1" stroke-linecap="square"/>
<line x1="437.5" y1="638.5" x2="437.5" y2="625.5" stroke="#585858" stroke-width="1" stroke-linecap="square"/>
<line x1="440.5" y1="625.5" x2="440.5" y2="638.5" stroke="#585858" stroke-width="1" stroke-linecap="square"/>
<line x1="440.5" y1="638.5" x2="525.5" y2="638.5" stroke="#6c6c6c" stroke-width="1" stroke-linecap="square"/>
<polyline points="229.5,625.5 225.4,625.5 231,615.5 236.6,625.5 232.5,625.5" fill="none" stroke="#585858" stroke-width="1" stroke-linejoin="miter"/>
<polyline points="332.5,625.5 328.8,625.5 334.5,615.5 340.2,625.5 336.5,625.5" fill="none" stroke="#585858" stroke-width="1" stroke-linejoin="miter"/>
<polyline points="437.5,625.5 433.3,625.5 439,615.5 444.7,625.5 440.5,625.5" fill="none" stroke="#585858" stroke-width="1" stroke-linejoin="miter"/>
<line x1="147.5" y1="655.5" x2="147.5" y2="642.5" stroke="#585858" stroke-width="1" stroke-linecap="square"/>
<line x1="147.5" y1="642.5" x2="332.5" y2="642.5" stroke="#6c6c6c" stroke-width="1" stroke-linecap="square"/>
<line x1="336.5" y1="642.5" x2="493.5" y2="642.5" stroke="#6c6c6c" stroke-width="1" stroke-linecap="square"/>
<line x1="496.5" y1="642.5" x2="617.5" y2="642.5" stroke="#6c6c6c" stroke-width="1" stroke-linecap="square"/>
<line x1="332.5" y1="642.5" x2="332.5" y2="655.5" stroke="#585858" stroke-width="1" stroke-linecap="square"/>
<line x1="336.5" y1="642.5" x2="336.5" y2="655.5" stroke="#585858" stroke-width="1" stroke-linecap="square"/>
<polyline points="332.5,655.5 328.8,655.5 334.5,665.5 340.2,655.5 336.5,655.5" fill="none" stroke="#585858" stroke-width="1" stroke-linejoin="miter"/>
<polyline points="143.5,655.5 139.8,655.5 145.5,666 151.2,655.5 147.5,655.5" fill="none" stroke="#585858" stroke-width="1" stroke-linejoin="miter"/>
<line x1="493.5" y1="642.5" x2="493.5" y2="655.5" stroke="#585858" stroke-width="1" stroke-linecap="square"/>
<line x1="496.5" y1="642.5" x2="496.5" y2="655.5" stroke="#585858" stroke-width="1" stroke-linecap="square"/>
<polyline points="493.5,655.5 489.3,655.5 495,665.5 500.7,655.5 496.5,655.5" fill="none" stroke="#585858" stroke-width="1" stroke-linejoin="miter"/>
<line x1="617.5" y1="642.5" x2="617.5" y2="655.5" stroke="#585858" stroke-width="1" stroke-linecap="square"/>
<line x1="621.5" y1="638.5" x2="621.5" y2="655.5" stroke="#585858" stroke-width="1" stroke-linecap="square"/>
<polyline points="617.5,655.5 613.8,655.5 619.5,666 625.2,655.5 621.5,655.5" fill="none" stroke="#585858" stroke-width="1" stroke-linejoin="miter"/>
<line x1="247.5" y1="675.5" x2="229" y2="675.5" stroke="#6c6c6c" stroke-width="1" stroke-linecap="square"/>
<polygon points="223,675.5 229,673.7 229,677.3" fill="#2a2a2a" stroke="#2a2a2a" stroke-width="0.5" stroke-linejoin="miter"/>
<line x1="409.5" y1="675.5" x2="426" y2="675.5" stroke="#6c6c6c" stroke-width="1" stroke-linecap="square"/>
<polygon points="432,675.5 426,673.7 426,677.3" fill="#2a2a2a" stroke="#2a2a2a" stroke-width="0.5" stroke-linejoin="miter"/>
<line x1="247.5" y1="697.5" x2="229" y2="697.5" stroke="#6c6c6c" stroke-width="1" stroke-linecap="square"/>
<polygon points="223,697.5 229,695.7 229,699.3" fill="#2a2a2a" stroke="#2a2a2a" stroke-width="0.5" stroke-linejoin="miter"/>
<line x1="409.5" y1="697.5" x2="426" y2="697.5" stroke="#6c6c6c" stroke-width="1" stroke-linecap="square"/>
<polygon points="432,697.5 426,695.7 426,699.3" fill="#2a2a2a" stroke="#2a2a2a" stroke-width="0.5" stroke-linejoin="miter"/>
<line x1="49.5" y1="737.5" x2="49.5" y2="685.5" stroke="#585858" stroke-width="1" stroke-linecap="square"/>
<line x1="49.5" y1="685.5" x2="63" y2="685.5" stroke="#6c6c6c" stroke-width="1" stroke-linecap="square"/>
<polygon points="69.5,685.5 63.5,683.7 63.5,687.3" fill="#2a2a2a" stroke="#2a2a2a" stroke-width="0.5" stroke-linejoin="miter"/>
<line x1="125.5" y1="727.5" x2="125.5" y2="712" stroke="#585858" stroke-width="1" stroke-linecap="square"/>
<polygon points="125.5,706.5 123.7,712.5 127.3,712.5" fill="#2a2a2a" stroke="#2a2a2a" stroke-width="0.5" stroke-linejoin="miter"/>
<line x1="139.5" y1="727.5" x2="139.5" y2="712" stroke="#585858" stroke-width="1" stroke-linecap="square"/>
<polygon points="139.5,706.5 137.7,712.5 141.3,712.5" fill="#2a2a2a" stroke="#2a2a2a" stroke-width="0.5" stroke-linejoin="miter"/>
<line x1="151.5" y1="727.5" x2="151.5" y2="712" stroke="#585858" stroke-width="1" stroke-linecap="square"/>
<polygon points="151.5,706.5 149.7,712.5 153.3,712.5" fill="#2a2a2a" stroke="#2a2a2a" stroke-width="0.5" stroke-linejoin="miter"/>
<line x1="164.5" y1="727.5" x2="164.5" y2="712" stroke="#585858" stroke-width="1" stroke-linecap="square"/>
<polygon points="164.5,706.5 162.7,712.5 166.3,712.5" fill="#2a2a2a" stroke="#2a2a2a" stroke-width="0.5" stroke-linejoin="miter"/>
<line x1="468.5" y1="706.5" x2="468.5" y2="721" stroke="#585858" stroke-width="1" stroke-linecap="square"/>
<polygon points="468.5,727.5 466.7,721.5 470.3,721.5" fill="#2a2a2a" stroke="#2a2a2a" stroke-width="0.5" stroke-linejoin="miter"/>
<line x1="481.5" y1="727.5" x2="481.5" y2="712.5" stroke="#585858" stroke-width="1" stroke-linecap="square"/>
<polygon points="481.5,706.5 479.7,712.5 483.3,712.5" fill="#2a2a2a" stroke="#2a2a2a" stroke-width="0.5" stroke-linejoin="miter"/>
<line x1="494.5" y1="727.5" x2="494.5" y2="712.5" stroke="#585858" stroke-width="1" stroke-linecap="square"/>
<polygon points="494.5,706.5 492.7,712.5 496.3,712.5" fill="#2a2a2a" stroke="#2a2a2a" stroke-width="0.5" stroke-linejoin="miter"/>
<line x1="507.5" y1="727.5" x2="507.5" y2="712.5" stroke="#585858" stroke-width="1" stroke-linecap="square"/>
<polygon points="507.5,706.5 505.7,712.5 509.3,712.5" fill="#2a2a2a" stroke="#2a2a2a" stroke-width="0.5" stroke-linejoin="miter"/>
<line x1="600.5" y1="727.5" x2="600.5" y2="712.5" stroke="#585858" stroke-width="1" stroke-linecap="square"/>
<polygon points="600.5,706.5 598.7,712.5 602.3,712.5" fill="#2a2a2a" stroke="#2a2a2a" stroke-width="0.5" stroke-linejoin="miter"/>
<line x1="613.5" y1="727.5" x2="613.5" y2="712.5" stroke="#585858" stroke-width="1" stroke-linecap="square"/>
<polygon points="613.5,706.5 611.7,712.5 615.3,712.5" fill="#2a2a2a" stroke="#2a2a2a" stroke-width="0.5" stroke-linejoin="miter"/>
<line x1="626.5" y1="727.5" x2="626.5" y2="712.5" stroke="#585858" stroke-width="1" stroke-linecap="square"/>
<polygon points="626.5,706.5 624.7,712.5 628.3,712.5" fill="#2a2a2a" stroke="#2a2a2a" stroke-width="0.5" stroke-linejoin="miter"/>
<line x1="639.5" y1="727.5" x2="639.5" y2="712.5" stroke="#585858" stroke-width="1" stroke-linecap="square"/>
<polygon points="639.5,706.5 637.7,712.5 641.3,712.5" fill="#2a2a2a" stroke="#2a2a2a" stroke-width="0.5" stroke-linejoin="miter"/>
</svg>
</body></html>
